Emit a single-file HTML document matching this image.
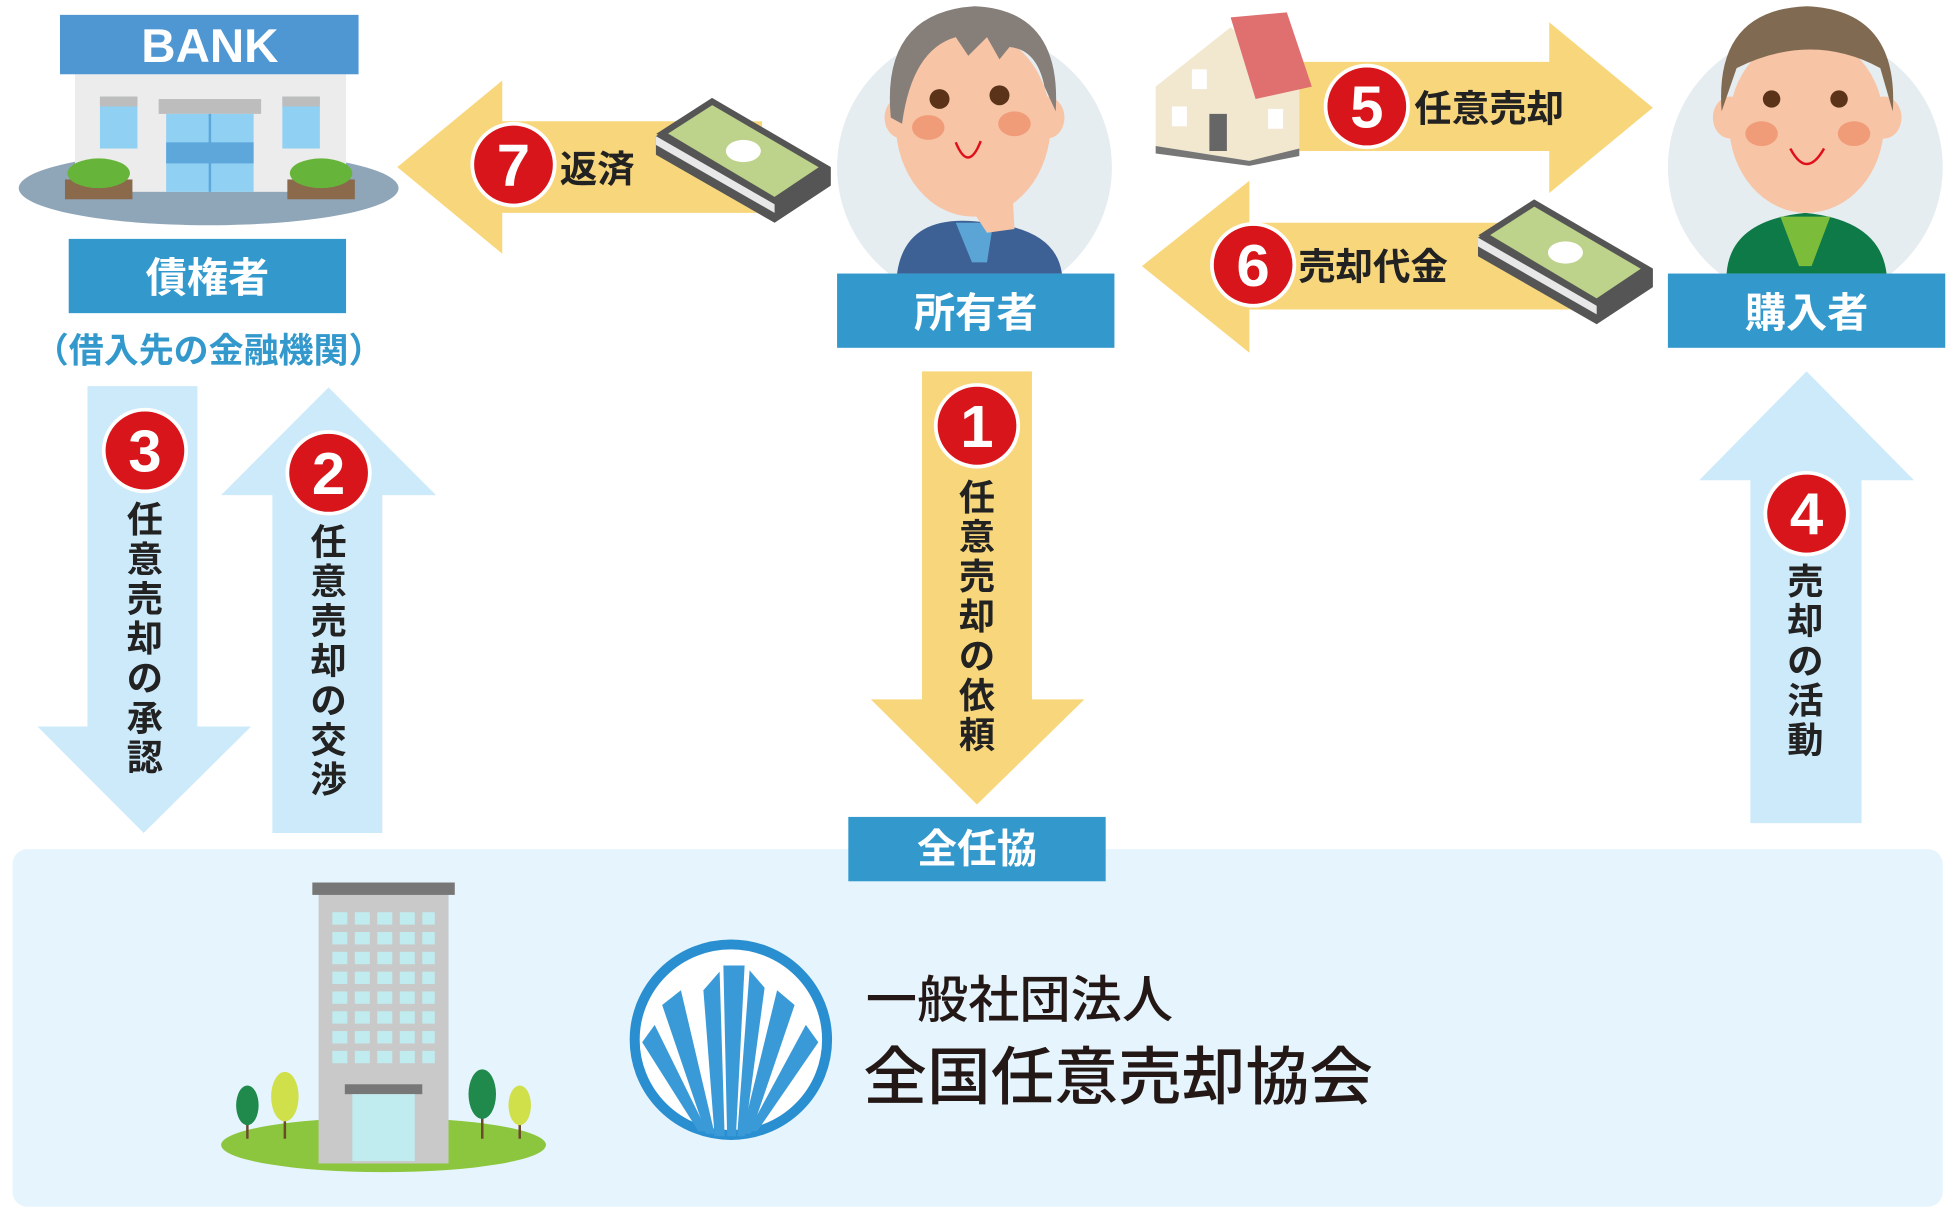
<!DOCTYPE html>
<html><head><meta charset="utf-8"><style>
html,body{margin:0;padding:0;background:#fff;overflow:hidden}
svg{display:block}
text{font-family:"Liberation Sans","Noto Sans CJK JP",sans-serif;font-weight:bold}
</style></head><body>
<svg width="1949" height="1213" viewBox="0 0 1560 980" preserveAspectRatio="none" xmlns="http://www.w3.org/2000/svg">
<rect x="10" y="686" width="1545" height="289" rx="12" fill="#e6f5fd"/>
<circle cx="780" cy="135" r="110" fill="#e6edf1"/>
<circle cx="1445" cy="135" r="110" fill="#e6edf1"/>

<ellipse cx="167" cy="152" rx="152" ry="30" fill="#8fa5b8"/>
<rect x="60" y="60" width="217" height="95" fill="#ececec"/>
<rect x="80" y="78" width="30" height="42" fill="#8fd0f3"/>
<rect x="226" y="78" width="30" height="42" fill="#8fd0f3"/>
<rect x="80" y="78" width="30" height="8" fill="#bdbdbd"/>
<rect x="226" y="78" width="30" height="8" fill="#bdbdbd"/>
<rect x="127" y="80" width="82" height="12" fill="#bdbdbd"/>
<rect x="133" y="92" width="70" height="63" fill="#8fd0f3"/>
<rect x="133" y="115" width="70" height="17" fill="#5da7db"/>
<line x1="168" y1="92" x2="168" y2="155" stroke="#5da7db" stroke-width="2"/>
<rect x="52" y="145" width="54" height="16" fill="#8a6a4a"/>
<ellipse cx="79" cy="140" rx="25" ry="12" fill="#66b53a"/>
<rect x="230" y="145" width="54" height="16" fill="#8a6a4a"/>
<ellipse cx="257" cy="140" rx="25" ry="12" fill="#66b53a"/>
<rect x="48" y="12" width="239" height="48" fill="#4f97d2"/>
<text x="168" y="50" font-size="38" fill="#fff" text-anchor="middle">BANK</text>

<rect x="55" y="193" width="222" height="60" fill="#3399cc"/>
<text x="166" y="236" font-size="33" fill="#fff" text-anchor="middle">債権者</text>
<text x="167" y="293" font-size="28" fill="#3399cc" text-anchor="middle">（借入先の金融機関）</text>

<polygon points="318,135 402,65 402,98 610,98 610,172 402,172 402,205" fill="#f8d77c"/>
<g>
<polygon points="525,110 570,80 665,135 665,150 620,180 525,125" fill="#555"/>
<polygon points="525,110 620,165 620,172 525,117" fill="#e8e8e8"/>
<polygon points="530,108 570,82 660,135 620,162" fill="#bdd28a" stroke="#555" stroke-width="5"/>
<ellipse cx="595" cy="122" rx="14" ry="9" fill="#fff"/>
</g>
<circle cx="411" cy="133" r="33" fill="#d7151a" stroke="#fff" stroke-width="3"/>
<text x="411" y="150" font-size="48" fill="#fff" text-anchor="middle">7</text>
<text x="448" y="147" font-size="30" fill="#222">返済</text>

<polygon points="1323,87 1240,18 1240,50 1035,50 1035,122 1240,122 1240,156" fill="#f8d77c"/>
<polygon points="925,70 985,22 1040,70 1040,122 1000,130 925,118" fill="#f2e8cf"/>
<polygon points="985,14 1030,10 1050,70 1005,80" fill="#e06f6f"/>
<polygon points="925,118 1000,130 1040,120 1040,126 1000,134 925,124" fill="#777"/>
<rect x="938" y="86" width="12" height="16" fill="#fff"/>
<rect x="954" y="56" width="12" height="16" fill="#fff"/>
<rect x="968" y="92" width="14" height="30" fill="#666"/>
<rect x="1015" y="88" width="12" height="16" fill="#fff"/>
<circle cx="1094" cy="86" r="33" fill="#d7151a" stroke="#fff" stroke-width="3"/>
<text x="1094" y="103" font-size="48" fill="#fff" text-anchor="middle">5</text>
<text x="1132" y="98" font-size="30" fill="#222">任意売却</text>

<polygon points="914,215 1000,146 1000,180 1260,180 1260,250 1000,250 1000,285" fill="#f8d77c"/>
<g transform="translate(658,82)">
<polygon points="525,110 570,80 665,135 665,150 620,180 525,125" fill="#555"/>
<polygon points="525,110 620,165 620,172 525,117" fill="#e8e8e8"/>
<polygon points="530,108 570,82 660,135 620,162" fill="#bdd28a" stroke="#555" stroke-width="5"/>
<ellipse cx="595" cy="122" rx="14" ry="9" fill="#fff"/>
</g>
<circle cx="1003" cy="214" r="33" fill="#d7151a" stroke="#fff" stroke-width="3"/>
<text x="1003" y="231" font-size="48" fill="#fff" text-anchor="middle">6</text>
<text x="1039" y="226" font-size="30" fill="#222">売却代金</text>

<path d="M718,221 Q725,170 790,180 Q845,185 850,221 Z" fill="#3d6194"/>
<polygon points="765,180 795,180 790,212 778,212" fill="#5ba5d6"/>
<ellipse cx="722" cy="95" rx="14" ry="17" fill="#f7c4a6"/>
<ellipse cx="838" cy="95" rx="14" ry="17" fill="#f7c4a6"/>
<ellipse cx="779" cy="100" rx="62" ry="75" fill="#f7c4a6"/>
<path d="M713,95 Q705,10 780,5 Q850,8 845,90 L836,70 Q830,40 808,38 L800,48 L790,30 L775,45 L765,30 Q730,40 722,100 Z" fill="#857e79"/>
<circle cx="752" cy="80" r="8" fill="#5a3318"/>
<circle cx="800" cy="77" r="8" fill="#5a3318"/>
<ellipse cx="743" cy="103" rx="13" ry="10" fill="#f19c78"/>
<ellipse cx="812" cy="100" rx="13" ry="10" fill="#f19c78"/>
<path d="M765,115 Q775,140 785,114" stroke="#e0101a" stroke-width="2" fill="none"/>
<path d="M748,145 L795,150 L803,130 Q812,132 810,148 L812,185 L790,188 L773,162 L748,152 Z" fill="#f7c4a6"/>
<path d="M1382,221 Q1385,178 1445,172 Q1505,178 1510,221 Z" fill="#0d7a47"/>
<polygon points="1425,175 1465,175 1450,215 1440,215" fill="#7bbd3a"/>
<ellipse cx="1385" cy="95" rx="14" ry="17" fill="#f7c4a6"/>
<ellipse cx="1508" cy="95" rx="14" ry="17" fill="#f7c4a6"/>
<ellipse cx="1446" cy="100" rx="62" ry="72" fill="#f7c4a6"/>
<path d="M1378,90 Q1372,8 1446,5 Q1520,8 1515,90 L1505,55 Q1450,25 1390,55 Z" fill="#806a52"/>
<circle cx="1418" cy="80" r="7" fill="#5a3318"/>
<circle cx="1472" cy="80" r="7" fill="#5a3318"/>
<ellipse cx="1410" cy="108" rx="13" ry="10" fill="#f19c78"/>
<ellipse cx="1484" cy="108" rx="13" ry="10" fill="#f19c78"/>
<path d="M1433,120 Q1446,145 1460,120" stroke="#e0101a" stroke-width="2" fill="none"/>

<rect x="670" y="221" width="222" height="60" fill="#3399cc"/>
<text x="781" y="264" font-size="33" fill="#fff" text-anchor="middle">所有者</text>
<rect x="1335" y="221" width="222" height="60" fill="#3399cc"/>
<text x="1446" y="264" font-size="33" fill="#fff" text-anchor="middle">購入者</text>

<polygon points="738,300 826,300 826,565 868,565 782,650 697,565 738,565" fill="#f8d77c"/>
<circle cx="782" cy="344" r="33" fill="#d7151a" stroke="#fff" stroke-width="3"/>
<text x="782" y="361" font-size="48" fill="#fff" text-anchor="middle">1</text>
<text font-size="29" fill="#222" text-anchor="middle"><tspan x="782" y="412">任</tspan><tspan x="782" y="444">意</tspan><tspan x="782" y="476">売</tspan><tspan x="782" y="508">却</tspan><tspan x="782" y="540">の</tspan><tspan x="782" y="572">依</tspan><tspan x="782" y="604">頼</tspan></text>

<rect x="679" y="660" width="206" height="52" fill="#3399cc"/>
<text x="782" y="697" font-size="32" fill="#fff" text-anchor="middle">全任協</text>

<polygon points="70,312 158,312 158,587 201,587 115,673 30,587 70,587" fill="#cdeafa"/>
<circle cx="116" cy="364" r="33" fill="#d7151a" stroke="#fff" stroke-width="3"/>
<text x="116" y="381" font-size="48" fill="#fff" text-anchor="middle">3</text>
<text font-size="29" fill="#222" text-anchor="middle"><tspan x="116" y="430">任</tspan><tspan x="116" y="462">意</tspan><tspan x="116" y="494">売</tspan><tspan x="116" y="526">却</tspan><tspan x="116" y="558">の</tspan><tspan x="116" y="590">承</tspan><tspan x="116" y="622">認</tspan></text>

<polygon points="263,313 349,400 306,400 306,673 218,673 218,400 177,400" fill="#cdeafa"/>
<circle cx="263" cy="382" r="33" fill="#d7151a" stroke="#fff" stroke-width="3"/>
<text x="263" y="399" font-size="48" fill="#fff" text-anchor="middle">2</text>
<text font-size="29" fill="#222" text-anchor="middle"><tspan x="263" y="448">任</tspan><tspan x="263" y="480">意</tspan><tspan x="263" y="512">売</tspan><tspan x="263" y="544">却</tspan><tspan x="263" y="576">の</tspan><tspan x="263" y="608">交</tspan><tspan x="263" y="640">渉</tspan></text>

<polygon points="1446,300 1532,388 1490,388 1490,665 1401,665 1401,388 1360,388" fill="#cdeafa"/>
<circle cx="1446" cy="415" r="33" fill="#d7151a" stroke="#fff" stroke-width="3"/>
<text x="1446" y="432" font-size="48" fill="#fff" text-anchor="middle">4</text>
<text font-size="29" fill="#222" text-anchor="middle"><tspan x="1445" y="480">売</tspan><tspan x="1445" y="512">却</tspan><tspan x="1445" y="544">の</tspan><tspan x="1445" y="576">活</tspan><tspan x="1445" y="608">動</tspan></text>

<ellipse cx="307" cy="925" rx="130" ry="22" fill="#8cc63f"/>
<rect x="255" y="720" width="104" height="220" fill="#c9c9c9"/>
<rect x="250" y="713" width="114" height="10" fill="#777"/>
<g fill="#c0ecef">
<rect x="266" y="737" width="12" height="10"/><rect x="284" y="737" width="12" height="10"/><rect x="302" y="737" width="12" height="10"/><rect x="320" y="737" width="12" height="10"/><rect x="338" y="737" width="10" height="10"/>
<rect x="266" y="753" width="12" height="10"/><rect x="284" y="753" width="12" height="10"/><rect x="302" y="753" width="12" height="10"/><rect x="320" y="753" width="12" height="10"/><rect x="338" y="753" width="10" height="10"/>
<rect x="266" y="769" width="12" height="10"/><rect x="284" y="769" width="12" height="10"/><rect x="302" y="769" width="12" height="10"/><rect x="320" y="769" width="12" height="10"/><rect x="338" y="769" width="10" height="10"/>
<rect x="266" y="785" width="12" height="10"/><rect x="284" y="785" width="12" height="10"/><rect x="302" y="785" width="12" height="10"/><rect x="320" y="785" width="12" height="10"/><rect x="338" y="785" width="10" height="10"/>
<rect x="266" y="801" width="12" height="10"/><rect x="284" y="801" width="12" height="10"/><rect x="302" y="801" width="12" height="10"/><rect x="320" y="801" width="12" height="10"/><rect x="338" y="801" width="10" height="10"/>
<rect x="266" y="817" width="12" height="10"/><rect x="284" y="817" width="12" height="10"/><rect x="302" y="817" width="12" height="10"/><rect x="320" y="817" width="12" height="10"/><rect x="338" y="817" width="10" height="10"/>
<rect x="266" y="833" width="12" height="10"/><rect x="284" y="833" width="12" height="10"/><rect x="302" y="833" width="12" height="10"/><rect x="320" y="833" width="12" height="10"/><rect x="338" y="833" width="10" height="10"/>
<rect x="266" y="849" width="12" height="10"/><rect x="284" y="849" width="12" height="10"/><rect x="302" y="849" width="12" height="10"/><rect x="320" y="849" width="12" height="10"/><rect x="338" y="849" width="10" height="10"/>
</g>
<rect x="276" y="876" width="62" height="8" fill="#777"/>
<rect x="282" y="884" width="50" height="54" fill="#c0ecef"/>
<g stroke="#6b4a2a" stroke-width="2">
<line x1="198" y1="885" x2="198" y2="920"/><line x1="228" y1="880" x2="228" y2="920"/>
<line x1="386" y1="880" x2="386" y2="920"/><line x1="416" y1="885" x2="416" y2="920"/></g>
<ellipse cx="198" cy="893" rx="9" ry="16" fill="#1f8a4c"/>
<ellipse cx="228" cy="886" rx="11" ry="20" fill="#cfe04a"/>
<ellipse cx="386" cy="884" rx="11" ry="20" fill="#1f8a4c"/>
<ellipse cx="416" cy="893" rx="9" ry="16" fill="#cfe04a"/>

<circle cx="585" cy="840" r="77" fill="#fff" stroke="#2a8fd0" stroke-width="8"/>
<g fill="#3a9ad8">
<polygon points="563,800 576,785 580,918 572,918"/>
<polygon points="579,780 596,780 589,918 582,918"/>
<polygon points="600,784 612,798 596,918 590,918"/>
<polygon points="530,812 545,800 572,916 565,916"/>
<polygon points="622,800 636,812 601,916 594,916"/>
<polygon points="514,842 524,828 566,914 559,914"/>
<polygon points="645,828 655,842 606,914 599,914"/>
</g>
<text x="693" y="822" font-size="41" fill="#231815" style="font-weight:500">一般社団法人</text>
<text x="691" y="888" font-size="51" fill="#231815" style="font-weight:500">全国任意売却協会</text>
</svg>
</body></html>
